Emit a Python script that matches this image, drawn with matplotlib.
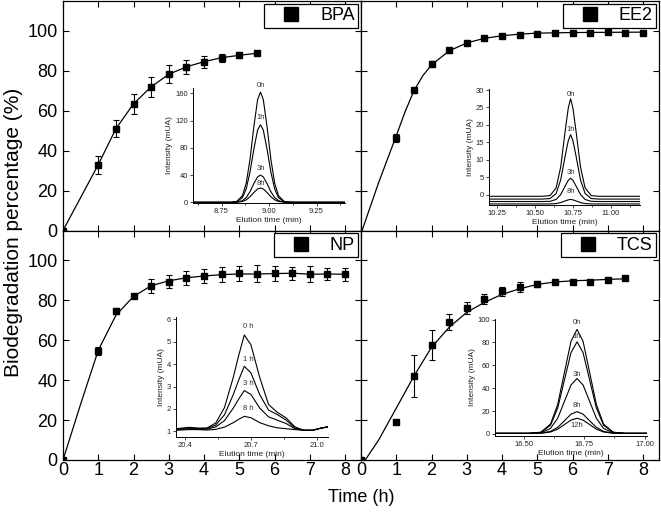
import matplotlib
matplotlib.use("Agg")
import matplotlib.pyplot as plt
from matplotlib.lines import Line2D
from matplotlib.ticker import AutoMinorLocator

plt.rcParams['font.family'] = ['Liberation Sans', 'DejaVu Sans']

# ---- main panels: biodegradation (%) vs time (h) ----
bpa_t = [0, 1, 1.5, 2, 2.5, 3, 3.5, 4, 4.5, 5, 5.5]
bpa_y = [0, 33, 51, 63.5, 72, 78.3, 82, 84.6, 86.6, 87.8, 88.8]
bpa_err = [0, 4.5, 4.3, 5, 5, 4.5, 3.5, 3, 2, 1.5, 1]
bpa_fit_t = bpa_t
bpa_fit_y = bpa_y

ee2_t = [1, 1.5, 2, 2.5, 3, 3.5, 4, 4.5, 5, 5.5, 6, 6.5, 7, 7.5, 8]
ee2_y = [46.3, 70.5, 83.3, 90.2, 94, 96.3, 97.5, 98.2, 98.7, 99, 99.2, 99.2, 99.5, 99.2, 99.2]
ee2_err = [2, 1.5, 1.5, 1.2, 1, 1, 0.8, 0.8, 0.8, 0.8, 0.8, 0.6, 0.8, 0.5, 0.5]
ee2_fit_t = [0.03, 0.5, 1, 1.25, 1.5, 1.75, 2, 2.5, 3, 3.5, 4, 4.5, 5, 6, 7, 8]
ee2_fit_y = [0, 24, 47.5, 59.5, 70, 77.5, 83, 90, 94, 96.3, 97.6, 98.4, 98.9, 99.2, 99.3, 99.4]

np_t = [0, 1, 1.5, 2, 2.5, 3, 3.5, 4, 4.5, 5, 5.5, 6, 6.5, 7, 7.5, 8]
np_y = [0, 54.8, 74.5, 82.4, 87.1, 89.4, 91.1, 92.1, 93.1, 93.5, 93.3, 93.5, 93.6, 93.1, 93.3, 93.1]
np_err = [0, 2, 1.5, 1, 3.5, 3.2, 3.5, 3.5, 3.8, 3.8, 4.3, 3.8, 3.3, 4, 3, 3.3]
np_fit_t = [0, 0.5, 1, 1.5, 2, 2.5, 3, 3.5, 4, 4.5, 5, 5.5, 6, 6.5, 7, 7.5, 8]
np_fit_y = [0, 28, 55, 72.5, 82, 87.3, 89.8, 91.3, 92.2, 92.9, 93.2, 93.2, 93.4, 93.6, 93.1, 93.2, 93.1]

tcs_t = [0, 1, 1.5, 2, 2.5, 3, 3.5, 4, 4.5, 5, 5.5, 6, 6.5, 7, 7.5]
tcs_y = [0, 18.8, 42.2, 57.5, 69, 76.2, 80.7, 84.6, 86.6, 88.4, 89.3, 89.3, 89.4, 90.1, 91]
tcs_err = [0, 0, 10.6, 7.5, 4, 3.2, 2.7, 2.3, 2.5, 1.5, 1, 1, 0.8, 1, 0.8]
tcs_fit_t = [0.12, 0.5, 1, 1.5, 2, 2.5, 3, 3.5, 4, 4.5, 5, 5.5, 6, 6.5, 7, 7.5]
tcs_fit_y = [0, 10, 26, 42, 56.5, 66.5, 74, 79, 83, 85.8, 88, 89.2, 89.8, 90.1, 90.5, 90.8]

# ---- insets: chromatograms ----
bpa_rt = [8.60, 8.80, 8.83, 8.86, 8.88, 8.90, 8.92, 8.94, 8.955, 8.97, 8.99, 9.01, 9.03, 9.05, 9.08, 9.12, 9.40]
bpa_peaks = {
    '0h': [0, 0, 1.2, 9.7, 27.9, 63, 110.5, 151, 162, 151, 110.5, 63, 27.9, 9.7, 1.2, 0, 0],
    '1h': [0, 0, 0.9, 6.8, 19.6, 44.3, 77.7, 106.2, 114, 106.2, 77.7, 44.3, 19.6, 6.8, 0.9, 0, 0],
    '3h': [0, 0, 0.3, 2.4, 6.9, 15.6, 27.3, 37.3, 40, 37.3, 27.3, 15.6, 6.9, 2.4, 0.3, 0, 0],
    '8h': [0, 0, 0.2, 1.3, 3.6, 8.2, 14.3, 19.6, 21, 19.6, 14.3, 8.2, 3.6, 1.3, 0.2, 0, 0],
}
bpa_lab_y = [172, 124, 50, 28]

ee2_rt = [10.20, 10.55, 10.60, 10.64, 10.67, 10.70, 10.72, 10.735, 10.75, 10.77, 10.80, 10.83, 10.87, 10.92, 11.19]
ee2_peaks = {
    '0h': [-0.5, -0.5, -0.3, 1.9, 7.9, 18.4, 24.9, 27.5, 24.9, 18.4, 7.9, 1.9, -0.3, -0.5, -0.5],
    '1h': [-1.3, -1.3, -1.15, 0.3, 4.2, 11.2, 15.5, 17.2, 15.5, 11.2, 4.2, 0.3, -1.15, -1.3, -1.3],
    '3h': [-2.0, -2.0, -1.95, -1.4, 0.0, 2.5, 4.1, 4.7, 4.1, 2.5, 0.0, -1.4, -1.95, -2.0, -2.0],
    '8h': [-2.7, -2.7, -2.69, -2.59, -2.31, -1.82, -1.52, -1.4, -1.52, -1.82, -2.31, -2.59, -2.69, -2.7, -2.7],
}
ee2_lab_y = [28.8, 18.8, 6.4, 1.0]

np_rt = [20.36, 20.42, 20.46, 20.50, 20.54, 20.58, 20.62, 20.645, 20.67, 20.70, 20.74, 20.78, 20.82, 20.86, 20.90, 20.94, 20.98, 21.02, 21.05]
np_peaks = {
    '0 h': [1.12, 1.18, 1.15, 1.15, 1.37, 2.06, 3.41, 4.4, 5.3, 4.86, 3.41, 2.2, 1.85, 1.6, 1.2, 1.05, 1.05, 1.15, 1.2],
    '1 h': [1.1, 1.15, 1.12, 1.13, 1.28, 1.74, 2.64, 3.3, 3.9, 3.61, 2.64, 1.95, 1.75, 1.5, 1.15, 1.05, 1.05, 1.15, 1.2],
    '3 h': [1.08, 1.12, 1.1, 1.1, 1.2, 1.48, 2.04, 2.45, 2.82, 2.65, 2.04, 1.65, 1.5, 1.35, 1.12, 1.05, 1.05, 1.15, 1.2],
    '8 h': [1.05, 1.08, 1.08, 1.06, 1.09, 1.19, 1.39, 1.54, 1.67, 1.61, 1.39, 1.25, 1.16, 1.12, 1.08, 1.05, 1.05, 1.15, 1.2],
}
np_lab_y = [5.67, 4.22, 3.12, 2.0]

tcs_rt = [16.38, 16.52, 16.57, 16.61, 16.64, 16.67, 16.695, 16.72, 16.745, 16.77, 16.80, 16.83, 16.87, 16.92, 17.01]
tcs_peaks = {
    '0h': [0.5, 0.5, 1.5, 8.6, 25.9, 56, 81, 91.4, 81, 56, 25.9, 8.6, 1.5, 0.5, 0.5],
    '1h': [0.5, 0.5, 1.4, 7.6, 22.7, 49.1, 71.1, 80.5, 71.1, 49.1, 22.7, 7.6, 1.4, 0.5, 0.5],
    '3h': [0.5, 0.5, 1.0, 4.8, 13.8, 29.6, 42.8, 48.5, 42.8, 29.6, 13.8, 4.8, 1.0, 0.5, 0.5],
    '8h': [0.5, 0.5, 0.7, 2.2, 5.8, 12, 17.3, 19.5, 17.3, 12, 5.8, 2.2, 0.7, 0.5, 0.5],
    '12h': [0.5, 0.5, 0.6, 1.7, 4.2, 8.5, 12.1, 13.7, 12.1, 8.5, 4.2, 1.7, 0.6, 0.5, 0.5],
}
tcs_lab_y = [97.2, 85, 52.4, 24.5, 7.0]

fig = plt.figure(figsize=(6.61, 5.15), dpi=100)

L = 63 / 661
W = 298 / 661
H = 229.5 / 515
B = 1 - 460 / 515


def main_panel(rect, t, y, err, fit_t, fit_y, name, show_x, show_y):
    ax = fig.add_axes(rect)
    ax.plot(fit_t, fit_y, '-', color='k', lw=0.9, zorder=2)
    ax.errorbar(t, y, yerr=err, fmt='s', color='k', ms=5, elinewidth=0.8,
                capsize=2.2, capthick=0.8, zorder=3)
    ax.set_xlim(0, 8.45)
    ax.set_ylim(0, 115)
    ax.set_xticks(range(9))
    ax.set_yticks([0, 20, 40, 60, 80, 100])
    ax.tick_params(direction='in', top=True, right=True, length=4, width=0.8,
                   labelsize=13, labelbottom=show_x, labelleft=show_y)
    ax.tick_params(axis='x', pad=1.5)
    ax.tick_params(axis='y', pad=4)
    for s in ax.spines.values():
        s.set_linewidth(0.9)
    h = Line2D([], [], marker='s', ls='none', color='k', ms=9.5)
    ax.legend([h], [name], loc='upper right', fontsize=13, frameon=True,
              fancybox=False, edgecolor='k', framealpha=1, borderpad=0.2,
              handlelength=2.6, handletextpad=0.3, borderaxespad=0.15)
    ax.get_legend().get_frame().set_linewidth(0.9)
    return ax


def inset(rect, rt, peaks, lab_y, xlim, ylim, xticks, xtl, yticks, lab_x):
    ax = fig.add_axes(rect)
    for (lab, vals), ly in zip(peaks.items(), lab_y):
        ax.plot(rt, vals, color='k', lw=0.8)
        ax.text(lab_x, ly, lab, fontsize=5.5, color='#333333', ha='center', va='center')
    ax.set_xlim(*xlim)
    ax.set_ylim(*ylim)
    ax.set_xticks(xticks)
    ax.set_xticklabels(xtl)
    ax.set_yticks(yticks)
    ax.xaxis.set_minor_locator(AutoMinorLocator(2))
    ax.spines['top'].set_visible(False)
    ax.spines['right'].set_visible(False)
    for s in ('left', 'bottom'):
        ax.spines[s].set_linewidth(0.7)
    ax.tick_params(which='both', direction='out', length=2, width=0.6, labelsize=5.5,
                   pad=1.5, colors='#222222')
    ax.tick_params(which='minor', length=1.2)
    ax.set_xlabel('Elution time (min)', fontsize=6, labelpad=1.5, color='#222222')
    ax.set_ylabel('Intensity (mUA)', fontsize=6, labelpad=1.5, color='#222222')
    ax.patch.set_alpha(0)
    return ax


main_panel([L, B + H, W, H], bpa_t, bpa_y, bpa_err, bpa_fit_t, bpa_fit_y, 'BPA', False, True)
main_panel([L + W, B + H, W, H], ee2_t, ee2_y, ee2_err, ee2_fit_t, ee2_fit_y, 'EE2', False, False)
main_panel([L, B, W, H], np_t, np_y, np_err, np_fit_t, np_fit_y, 'NP', True, True)
main_panel([L + W, B, W, H], tcs_t, tcs_y, tcs_err, tcs_fit_t, tcs_fit_y, 'TCS', True, False)

inset([193 / 661, 1 - 203 / 515, 152 / 661, 115 / 515], bpa_rt, bpa_peaks, bpa_lab_y,
      (8.6, 9.4), (-1, 168), [8.75, 9.0, 9.25], ['8.75', '9.00', '9.25'],
      [0, 40, 80, 120, 160], 8.955)
inset([489 / 661, 1 - 205 / 515, 151 / 661, 116 / 515], ee2_rt, ee2_peaks, ee2_lab_y,
      (10.2, 11.19), (-3.0, 30.3), [10.25, 10.5, 10.75, 11.0],
      ['10.25', '10.50', '10.75', '11.00'], [0, 5, 10, 15, 20, 25, 30], 10.735)
inset([176 / 661, 1 - 437 / 515, 152 / 661, 120 / 515], np_rt, np_peaks, np_lab_y,
      (20.36, 21.05), (0.75, 6.1), [20.4, 20.7, 21.0], ['20.4', '20.7', '21.0'],
      [1, 2, 3, 4, 5, 6], 20.69)
inset([495 / 661, 1 - 436 / 515, 152 / 661, 117 / 515], tcs_rt, tcs_peaks, tcs_lab_y,
      (16.38, 17.01), (-1.8, 100.5), [16.5, 16.75, 17.0], ['16.50', '16.75', '17.00'],
      [0, 20, 40, 60, 80, 100], 16.72)

fig.text(361 / 661, 1 - 497 / 515, 'Time (h)', fontsize=13, ha='center', va='center')
fig.text(14 / 661, 1 - 232 / 515, 'Biodegradation percentage (%)', fontsize=15,
         rotation=90, ha='center', va='center')

fig.savefig('out.png', dpi=100)
